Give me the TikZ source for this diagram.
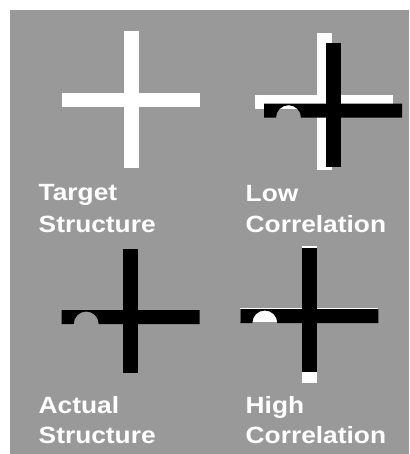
\documentclass[tikz,border=0pt]{standalone}
\usepackage{fontspec}
\newfontfamily\labelfont[FakeStretch=1.12]{Liberation Sans}
\usepackage{xcolor}
\definecolor{panel}{gray}{0.6}
\tikzstyle{target}=[fill=white]
\tikzstyle{actual}=[fill=black]
\tikzstyle{caption}=[text=white,inner sep=0pt,anchor=base west,
                     font=\labelfont\bfseries\fontsize{23.5}{28}\selectfont]
\def\L{138}   % length of the cross bar
\def\W{14}    % thickness of the bars
\def\X{61.5}  % left side of the upright

\begin{document}
\begin{tikzpicture}[x=1pt,y=-1pt]
  \useasboundingbox (0,0) rectangle (409,454);
  \fill[panel] (10,10) rectangle (409,454);
  
  \coordinate (T)  at (  62,   93  ); % TARGET
  \coordinate (LT) at ( 255,   94.7); % LOW, target
  \coordinate (LA) at ( 264,  103.7); % LOW, actual
  \coordinate (A)  at (61.7,  310  ); % ACTUAL
  \coordinate (HT) at (240.3, 308  ); % HIGH, target
  \coordinate (HA) at (240.3, 309  ); % HIGH, actual
  
  % TARGET CROSSES
  \foreach \o in {T,LT,HT}{
    \fill[target,shift={(\o)}] (0,0) rectangle (\L,\W);
    \fill[target,shift={(\o)}] (\X,-62) rectangle (\X+15,75);
  }
  
  % ACTUAL CROSSES (notch under the left arm, short lower arm)
  \foreach \o in {A,LA,HA}{
    \fill[actual,shift={(\o)}]
      (0,0) -- (\L,0) -- (\L,\W) -- (37,\W) arc (0:-180:12.5) -- (0,\W) -- cycle;
    \fill[actual,shift={(\o)}] (\X,-61) rectangle (\X+15,63);
  }
  
  % LABELS
  \node[caption] (t1) at ( 38.5, 200.5) {Target};
  \node[caption] (t2) at ( 38.5, 232.5) {Structure};
  \node[caption] (l1) at (245.5, 201  ) {Low};
  \node[caption] (l2) at (245.5, 232.5) {Correlation};
  \node[caption] (a1) at ( 38.5, 413  ) {Actual};
  \node[caption] (a2) at ( 38.5, 443  ) {Structure};
  \node[caption] (h1) at (245.5, 413  ) {High};
  \node[caption] (h2) at (245.5, 443  ) {Correlation};
  
\end{tikzpicture}
\end{document}
